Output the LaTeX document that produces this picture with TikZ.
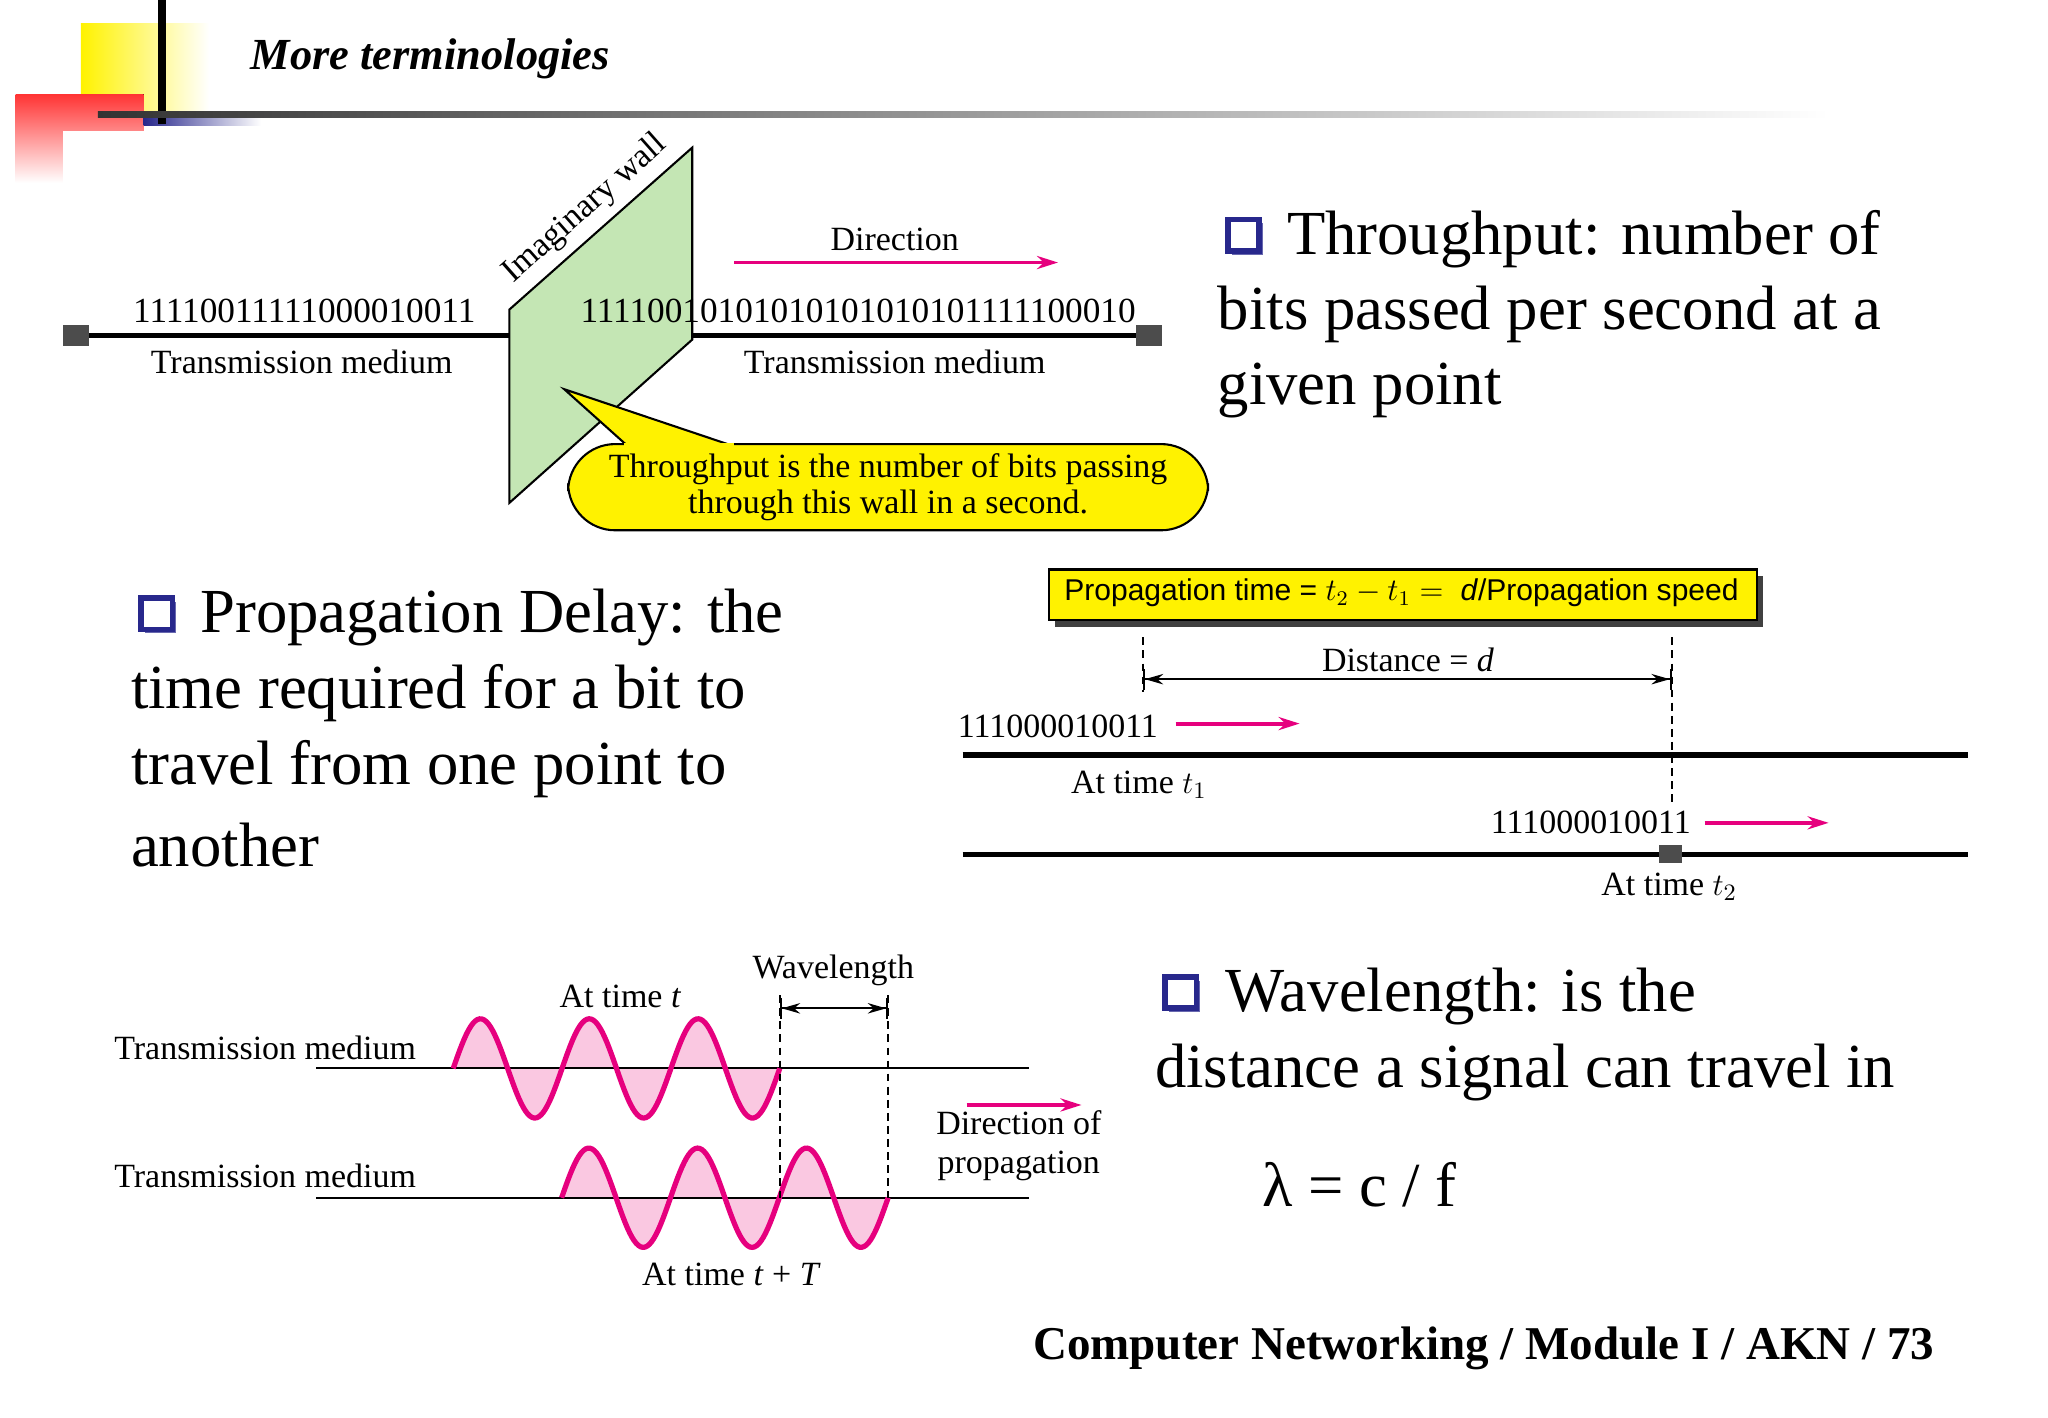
\documentclass[tikz,border=0pt]{standalone}
\usepackage{fontspec}
\setmainfont{Liberation Serif}
\setsansfont{Liberation Sans}
\usetikzlibrary{arrows.meta,shadows}
\definecolor{mag}{RGB}{230,0,126}
\definecolor{wallg}{RGB}{196,230,180}
\definecolor{pinkf}{RGB}{250,200,225}
\definecolor{navy}{RGB}{40,40,140}
\begin{document}
\begin{tikzpicture}[x=0.5pt,y=-0.5pt,
  lbl/.style={font=\fontsize{13}{15}\selectfont},
  big/.style={font=\fontsize{24}{28}\selectfont,anchor=west,inner sep=0},
  marr/.style={mag,line width=1.5pt,-{Stealth[length=8pt,width=5pt]}},
  med/.style={line width=2pt},
  thinl/.style={line width=0.8pt},
  dsh/.style={densely dashed,line width=0.7pt},
  endsq/.style={fill=black!70,draw=none}]
\useasboundingbox[fill=white] (0,0) rectangle (1568,1085);
% header
\fill[left color=yellow!90!orange,right color=white] (62,18) rectangle (160,85);
\fill[top color=red!80,bottom color=white] (12,72) rectangle (110,140);
\fill[white] (48,100) rectangle (160,140);
\fill[left color=navy,right color=white] (110,90) rectangle (200,96);
\draw[line width=3pt] (124,0) -- (124,95);
\shade[left color=black!80,right color=white] (75,85) rectangle (1400,90);
\node[anchor=west,font=\fontsize{17}{19}\selectfont\bfseries\itshape] (title) at (185,45) {More terminologies};
% top diagram
\draw[med] (60,257) -- (390,257);
\draw[med] (452,257) -- (880,257);
\fill[endsq] (48,249) rectangle (68,265);
\fill[endsq] (870,249) rectangle (890,265);
\filldraw[fill=wallg,draw=black,line width=0.8pt] (390,237) -- (530,113) -- (530,260) -- (390,385) -- cycle;
\node[lbl,rotate=41.5] (wall) at (448,160) {Imaginary wall};
\node[lbl,font=\fontsize{13.5}{15}\selectfont] (b1) at (233,238) {11110011111000010011};
\node[lbl,font=\fontsize{13.5}{15}\selectfont] (b2) at (657,238) {11110010101010101010101111100010};
\node[lbl] (tm1) at (231,277) {Transmission medium};
\node[lbl] (tm2) at (685,277) {Transmission medium};
\node[lbl] (dir) at (685,183) {Direction};
\coordinate (d1) at (562,201); \coordinate (d2) at (810,201);
\draw[marr] (d1) -- (d2);
\filldraw[fill=yellow,draw=black,line width=0.8pt,rounded corners=18pt] (435,340) rectangle (925,406);
\filldraw[fill=yellow,draw=black,line width=0.8pt] (480,341) -- (432,298) -- (560,341);
\fill[yellow] (478,343) rectangle (562,339);
\node[lbl,align=center,font=\fontsize{13}{14}\selectfont] (call) at (680,373) {Throughput is the number of bits passing\\through this wall in a second.};
% bullets
\tikzset{bul/.style={draw=navy,fill=white,line width=2.2pt,minimum size=12pt,inner sep=0,drop shadow={shadow xshift=1.5pt,shadow yshift=-1.5pt,fill=navy!70,opacity=1}}}
\node[bul] (bu1) at (952,180) {};
\node[big] (t1) at (985,183) {Throughput: number of};
\node[big] (t2) at (932,241) {bits passed per second at a};
\node[big] (t3) at (932,299) {given point};
% propagation text
\node[bul] (bu2) at (120,470) {};
\node[big] (p1) at (153,473) {Propagation Delay: the};
\node[big] (p2) at (100,531) {time required for a bit to};
\node[big] (p3) at (100,589) {travel from one point to};
\node[big] (p4) at (100,647) {another};
% propagation diagram
\fill[black!75] (808,441) rectangle (1350,480);
\filldraw[fill=yellow,draw=black,line width=0.8pt] (803,436) rectangle (1345,475);
\node[font=\sffamily\fontsize{11.5}{13}\selectfont] (pt) at (1073,454) {Propagation time = $t_2 - t_1 =\;$ \textit{d}/Propagation speed};
\draw[dsh] (875,488) -- (875,530);
\draw[dsh] (1280,488) -- (1280,615);
\draw[thinl,{Bar[width=8pt]Stealth[length=7pt,width=4pt]}-{Stealth[length=7pt,width=4pt]Bar[width=8pt]}] (875,520) -- (1280,520);
\node[lbl] (dist) at (1078,505) {Distance = \textit{d}};
\node[lbl] (s1) at (810,556) {111000010011};
\draw[marr] (900,554) -- (995,554);
\draw[med] (737,578) -- (1507,578);
\node[lbl] (at1) at (872,601) {At time $t_1$};
\node[lbl] (s2) at (1218,630) {111000010011};
\draw[marr] (1305,630) -- (1400,630);
\draw[med] (737,654) -- (1507,654);
\fill[endsq] (1270,647) rectangle (1288,661);
\node[lbl] (at2) at (1278,679) {At time $t_2$};
% wavelength diagram
\fill[pinkf] plot[domain=0:250,samples=150] ({347+\x},{818-38*sin(\x/83.33*360)}) -- cycle;
\fill[pinkf] plot[domain=0:250,samples=150] ({430+\x},{917-38*sin(\x/83.33*360)}) -- cycle;
\draw[thinl] (242,818) -- (788,818);
\draw[thinl] (242,917) -- (788,917);
\draw[mag,line width=2pt] plot[domain=0:250,samples=150] ({347+\x},{818-38*sin(\x/83.33*360)});
\draw[mag,line width=2pt] plot[domain=0:250,samples=150] ({430+\x},{917-38*sin(\x/83.33*360)});
\node[lbl] (w1) at (203,802) {Transmission medium};
\node[lbl] (w2) at (203,900) {Transmission medium};
\node[lbl] (att) at (475,763) {At time \textit{t}};
\node[lbl] (attT) at (560,976) {At time \textit{t} + \textit{T}};
\draw[dsh] (597,762) -- (597,917);
\draw[dsh] (680,762) -- (680,917);
\draw[thinl,{Bar[width=8pt]Stealth[length=7pt,width=4pt]}-{Stealth[length=7pt,width=4pt]Bar[width=8pt]}] (597,772) -- (680,772);
\node[lbl] (wl) at (638,743) {Wavelength};
\draw[marr] (740,846) -- (828,846);
\node[lbl,align=center] (dop) at (780,877) {Direction of\\propagation};
% wavelength text
\node[bul] (bu3) at (904,760) {};
\node[big] (wt1) at (938,763) {Wavelength: is the};
\node[big] (wt2) at (884,821) {distance a signal can travel in};
\node[big] (lam) at (966,907) {λ = c / f};
% footer
\node[anchor=east,font=\fontsize{18}{20}\selectfont\bfseries] (foot) at (1488,1032) {Computer Networking / Module I / AKN / 73};
\end{tikzpicture}
\end{document}
